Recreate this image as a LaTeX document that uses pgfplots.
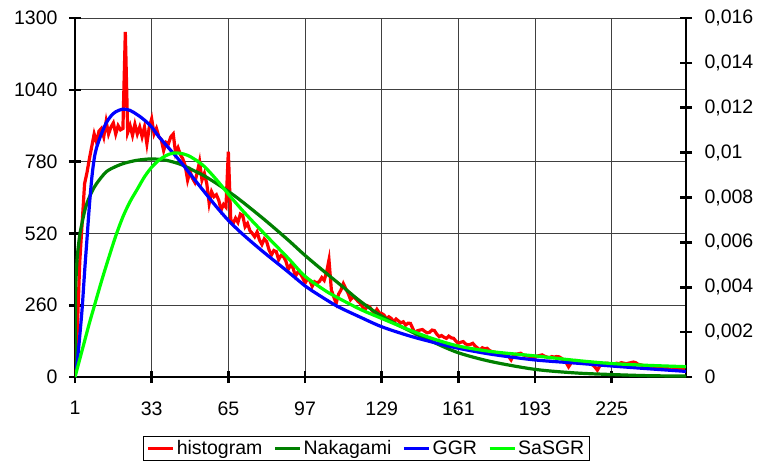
\documentclass[border=0pt]{standalone}
\usepackage{pgfplots}
\pgfplotsset{compat=1.18}
\usepackage{fontspec}
\setmainfont{Liberation Sans}
\newcommand{\fs}{\fontsize{19.5}{23}\selectfont}
\definecolor{dgreen}{RGB}{0,128,0}
\definecolor{lgreen}{RGB}{0,255,0}
\begin{document}
\begin{tikzpicture}
\path[use as bounding box] (-75pt,-87pt) rectangle (684pt,377pt);
\begin{axis}[
  at={(0pt,0pt)}, anchor=south west,
  scale only axis, width=611pt, height=359pt,
  xmin=1, xmax=256, ymin=0, ymax=1300,
  axis x line*=bottom, axis y line*=left,
  axis line style={-, line width=2.8pt},
  xtick={1,33,65,97,129,161,193,225},
  ytick={0,260,520,780,1040,1300},
  grid=major, major grid style={black!75, line width=0.9pt},
  major tick length=12pt, tick align=center,
  tick style={black, line width=2.6pt},
  tick label style={font=\fs},
  xticklabel style={yshift=-15pt},
  yticklabel style={xshift=-8pt},
  /pgf/number format/assume math mode=true,
  /pgf/number format/1000 sep={},
]
\addplot[red, line width=3.2pt] coordinates {
(1,0) (2,180) (3,420) (4,560) (5,700) (6,740) (7,790) (8,835) (9,880) (10,850)
(11,890) (12,900) (13,870) (14,925) (15,880) (16,905) (17,920) (18,880) (19,910) (20,895)
(21,900) (22,1250) (23,885) (24,910) (25,875) (26,915) (27,880) (28,905) (29,870) (30,905)
(31,845) (32,905) (33,935) (34,880) (35,900) (36,870) (37,860) (38,820) (39,850) (40,845)
(41,870) (42,880) (43,810) (44,830) (45,805) (46,790) (47,765) (48,713) (49,745) (50,720)
(51,705) (52,740) (53,780) (54,713) (55,737) (56,700) (57,629) (58,671) (59,653) (60,660)
(61,640) (62,605) (63,625) (64,615) (65,816) (66,570) (67,556) (68,575) (69,560) (70,590)
(71,585) (72,544) (73,556) (74,530) (75,520) (76,508) (77,525) (78,496) (79,480) (80,500)
(81,490) (82,460) (83,442) (84,458) (85,454) (86,425) (87,440) (88,436) (89,420) (90,390)
(91,405) (92,395) (93,365) (94,380) (95,375) (96,360) (97,340) (98,355) (99,350) (100,328)
(101,345) (102,340) (103,346) (104,360) (105,350) (106,380) (107,424) (108,315) (109,290) (110,267)
(111,300) (112,315) (113,338) (114,320) (115,303) (116,280) (117,290) (118,285) (119,275) (120,267)
(121,255) (122,242) (123,258) (124,254) (125,240) (126,230) (127,245) (128,232) (129,230) (130,224)
(131,210) (132,218) (133,212) (134,200) (135,210) (136,203) (137,196) (138,200) (139,188) (140,195)
(141,194) (142,175) (143,158) (144,168) (145,170) (146,172) (147,165) (148,160) (149,162) (150,170)
(151,168) (152,155) (153,146) (154,150) (155,144) (156,140) (157,148) (158,142) (159,140) (160,130)
(161,122) (162,126) (163,128) (164,120) (165,116) (166,118) (167,122) (168,112) (169,105) (170,98)
(171,106) (172,102) (173,104) (174,96) (175,92) (176,90) (177,86) (178,88) (179,84) (180,82)
(181,80) (182,74) (183,62) (184,78) (185,82) (186,84) (187,86) (188,80) (189,78) (190,76)
(191,74) (192,72) (193,71) (194,76) (195,78) (196,80) (197,75) (198,72) (199,70) (200,74)
(201,72) (202,74) (203,73) (204,68) (205,60) (206,52) (207,37) (208,50) (209,58) (210,60)
(211,56) (212,52) (213,54) (214,55) (215,52) (216,48) (217,44) (218,36) (219,25) (220,40)
(221,46) (222,48) (223,50) (224,48) (225,48) (226,46) (227,50) (228,48) (229,52) (230,50)
(231,48) (232,50) (233,52) (234,54) (235,52) (236,46) (237,44) (238,42) (239,40) (240,40)
(241,38) (242,40) (243,36) (244,35) (245,35) (246,34) (247,30) (248,32) (249,28) (250,25)
(251,30) (252,28) (253,30) (254,28) (255,30) (256,30)
};
\end{axis}
\begin{axis}[
  at={(0pt,0pt)}, anchor=south west,
  scale only axis, width=611pt, height=359pt,
  xmin=1, xmax=256, ymin=0, ymax=0.016,
  axis x line=none, axis y line*=right,
  axis line style={-, line width=2.8pt},
  ytick={0,0.002,0.004,0.006,0.008,0.01,0.012,0.014,0.016},
  scaled y ticks=false,
  major tick length=12pt, tick align=center,
  tick style={black, line width=2.6pt},
  tick label style={font=\fs},
  yticklabel style={xshift=9pt, /pgf/number format/.cd, use comma, fixed, precision=3, assume math mode=true},
  legend style={at={(0.477,-0.199)}, anchor=center, legend columns=4, draw=black, line width=0.8pt,
    font=\fs, inner xsep=3pt, inner ysep=2.5pt, nodes={inner sep=2pt},
    /tikz/every even column/.append style={column sep=9pt}},
  legend image code/.code={\draw[#1] (0pt,0pt) -- (25pt,0pt);},
]
\addlegendimage{red, line width=3.2pt}
\addlegendentry{histogram}
\addplot[dgreen, line width=3.2pt, smooth] coordinates {
(1,0) (1.25,0.00369) (1.5,0.00455) (2,0.00542) (3,0.00634) (4,0.00689) (5,0.00738) (6,0.00775)
(8,0.00825) (10,0.00862) (14,0.00914) (18,0.00938) (22,0.00954) (27,0.00966) (33,0.00972)
(39,0.00966) (45,0.00948) (50,0.00923) (55,0.00896) (60,0.00863) (65,0.00827) (70,0.00788)
(80,0.00702) (90,0.00610) (97,0.00542) (105,0.00470) (113,0.00400) (120,0.00338) (129,0.00271)
(140,0.00209) (150,0.00158) (161,0.00108) (175,0.00068) (193,0.00034) (210,0.00018)
(225,0.00011) (240,0.00006) (256,0.00004)
};
\addlegendentry{Nakagami}
\addplot[blue, line width=3.2pt, smooth] coordinates {
(1,0) (2,0.00074) (3,0.00185) (4,0.00308) (5,0.00468) (6,0.00615) (7,0.00763) (8,0.00886)
(9,0.00972) (10,0.01022) (12,0.01083) (14,0.01132) (16,0.01163) (18,0.01182) (21,0.01194)
(24,0.01188) (27,0.01169) (30,0.01145) (33,0.01114) (36,0.01071) (40,0.01022) (45,0.00960)
(50,0.00892) (55,0.00825) (60,0.00759) (65,0.00698) (70,0.00646) (75,0.00599) (80,0.00554)
(85,0.00511) (90,0.00468) (97,0.00406) (100,0.00384) (110,0.00318) (120,0.00267) (129,0.00224)
(140,0.00185) (150,0.00156) (161,0.00128) (175,0.00101) (193,0.00076) (210,0.00062)
(225,0.00049) (240,0.00037) (256,0.00025)
};
\addlegendentry{GGR}
\addplot[lgreen, line width=3.2pt, smooth] coordinates {
(1,0) (3,0.00080) (5,0.00160) (7,0.00240) (9,0.00314) (12,0.00425) (15,0.00529) (18,0.00628)
(21,0.00714) (24,0.00782) (27,0.00837) (30,0.00892) (33,0.00935) (36,0.00966) (39,0.00987)
(42,0.00998) (45,0.00997) (48,0.00988) (51,0.00970) (55,0.00938) (60,0.00880) (65,0.00815)
(70,0.00753) (75,0.00695) (81,0.00628) (90,0.00529) (97,0.00449) (105,0.00388) (110,0.00357)
(120,0.00302) (129,0.00261) (140,0.00212) (150,0.00172) (161,0.00138) (175,0.00113)
(193,0.00094) (210,0.00074) (225,0.00060) (240,0.00052) (256,0.00046)
};
\addlegendentry{SaSGR}
\end{axis}
\end{tikzpicture}
\end{document}
